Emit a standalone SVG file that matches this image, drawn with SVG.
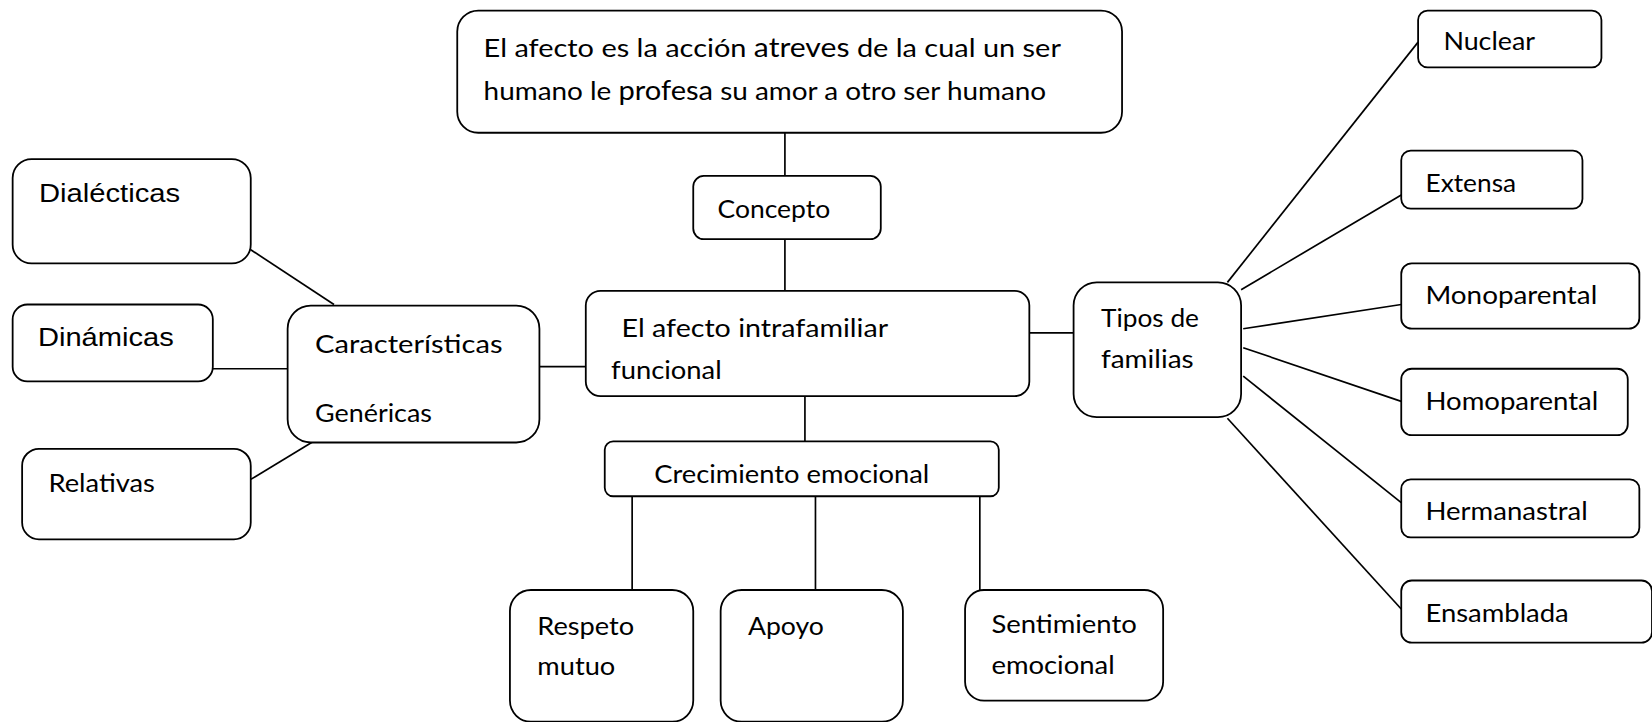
<svg xmlns="http://www.w3.org/2000/svg" width="1652" height="722" viewBox="0 0 1652 722">
<style>
.box{fill:#fff;stroke:#000;stroke-width:1.7}
.ln{stroke:#000;stroke-width:1.6;fill:none}
.t{font-family:Lato,"Open Sans","Noto Sans",sans-serif;font-size:24px;fill:#000}
.a{font-family:"Liberation Sans",Arial,sans-serif;font-size:25px;fill:#000}
</style>
<rect width="1652" height="722" fill="#fff"/>
<g transform="scale(1.05357)">
<g id="connectors">
<line class="ln" x1="745" y1="126" x2="745" y2="167"/>
<line class="ln" x1="745" y1="227" x2="745" y2="276"/>
<line class="ln" x1="512" y1="348" x2="556" y2="348"/>
<line class="ln" x1="238" y1="237" x2="317" y2="289"/>
<line class="ln" x1="202" y1="350" x2="273" y2="350"/>
<line class="ln" x1="238" y1="455" x2="304" y2="415"/>
<line class="ln" x1="977" y1="316" x2="1019" y2="316"/>
<line class="ln" x1="764" y1="376" x2="764" y2="419"/>
<line class="ln" x1="600" y1="471" x2="600" y2="560"/>
<line class="ln" x1="774" y1="471" x2="774" y2="560"/>
<line class="ln" x1="930" y1="471" x2="930" y2="560"/>
<line class="ln" x1="1165" y1="268" x2="1346" y2="40"/>
<line class="ln" x1="1178" y1="275" x2="1330" y2="185"/>
<line class="ln" x1="1180" y1="312" x2="1330" y2="289"/>
<line class="ln" x1="1180" y1="330" x2="1330" y2="381"/>
<line class="ln" x1="1180" y1="357" x2="1330" y2="477"/>
<line class="ln" x1="1165" y1="397" x2="1330" y2="578"/>
</g>
<g id="definicion">
<rect class="box" x="434" y="10" width="631" height="116" rx="20"/>
<text class="t" x="459" y="54" font-size="23" textLength="548" lengthAdjust="spacingAndGlyphs">El afecto es la acción <tspan font-size="25">atreves</tspan> de la cual un ser</text>
<text class="t" x="459" y="95" font-size="23" textLength="534" lengthAdjust="spacingAndGlyphs">humano le <tspan font-size="25">profesa</tspan> su amor a otro ser humano</text>
</g>
<g id="concepto">
<rect class="box" x="658" y="167" width="178" height="60" rx="10"/>
<text class="t" x="681" y="207" textLength="107" lengthAdjust="spacingAndGlyphs">Concepto</text>
</g>
<g id="afecto">
<rect class="box" x="556" y="276" width="421" height="100" rx="14"/>
<text class="t" x="590" y="320" textLength="253" lengthAdjust="spacingAndGlyphs">El afecto intrafamiliar</text>
<text class="t" x="580" y="360" textLength="105" lengthAdjust="spacingAndGlyphs">funcional</text>
</g>
<g id="caracteristicas">
<rect class="box" x="273" y="290" width="239" height="130" rx="22"/>
<text class="t" x="299" y="335" textLength="178" lengthAdjust="spacingAndGlyphs">Características</text>
<text class="t" x="299" y="401" font-size="22" textLength="111" lengthAdjust="spacingAndGlyphs">Genéricas</text>
</g>
<g id="dialecticas">
<rect class="box" x="12" y="151" width="226" height="99" rx="18"/>
<text class="a" x="37" y="192" textLength="134" lengthAdjust="spacingAndGlyphs">Dialécticas</text>
</g>
<g id="dinamicas">
<rect class="box" x="12" y="289" width="190" height="73" rx="14"/>
<text class="a" x="36" y="328" textLength="129" lengthAdjust="spacingAndGlyphs">Dinámicas</text>
</g>
<g id="relativas">
<rect class="box" x="21" y="426" width="217" height="86" rx="16"/>
<text class="t" x="46" y="467" font-size="22" textLength="101" lengthAdjust="spacingAndGlyphs">Relativas</text>
</g>
<g id="tipos">
<rect class="box" x="1019" y="268" width="159" height="128" rx="22"/>
<text class="t" x="1045" y="310" textLength="93" lengthAdjust="spacingAndGlyphs">Tipos de</text>
<text class="t" x="1045" y="349" textLength="88" lengthAdjust="spacingAndGlyphs">familias</text>
</g>
<g id="nuclear">
<rect class="box" x="1346" y="10" width="174" height="54" rx="9"/>
<text class="t" x="1370" y="47" font-size="22" textLength="87" lengthAdjust="spacingAndGlyphs">Nuclear</text>
</g>
<g id="extensa">
<rect class="box" x="1330" y="143" width="172" height="55" rx="9"/>
<text class="t" x="1353" y="182" font-size="22" textLength="86" lengthAdjust="spacingAndGlyphs">Extensa</text>
</g>
<g id="monoparental">
<rect class="box" x="1330" y="250" width="226" height="62" rx="10"/>
<text class="t" x="1353" y="289" font-size="22" textLength="163" lengthAdjust="spacingAndGlyphs">Monoparental</text>
</g>
<g id="homoparental">
<rect class="box" x="1330" y="350" width="215" height="63" rx="10"/>
<text class="t" x="1353" y="389" font-size="22" textLength="164" lengthAdjust="spacingAndGlyphs">Homoparental</text>
</g>
<g id="hermanastral">
<rect class="box" x="1330" y="455" width="226" height="55" rx="9"/>
<text class="t" x="1353" y="494" font-size="22" textLength="154" lengthAdjust="spacingAndGlyphs">Hermanastral</text>
</g>
<g id="ensamblada">
<rect class="box" x="1330" y="551" width="238" height="59" rx="10"/>
<text class="t" x="1353" y="590" font-size="22" textLength="136" lengthAdjust="spacingAndGlyphs">Ensamblada</text>
</g>
<g id="crecimiento">
<rect class="box" x="574" y="419" width="374" height="52" rx="8"/>
<text class="t" x="621" y="458" textLength="261" lengthAdjust="spacingAndGlyphs">Crecimiento emocional</text>
</g>
<g id="respeto">
<rect class="box" x="484" y="560" width="174" height="125" rx="20"/>
<text class="t" x="510" y="603" textLength="92" lengthAdjust="spacingAndGlyphs">Respeto</text>
<text class="t" x="510" y="641" textLength="74" lengthAdjust="spacingAndGlyphs">mutuo</text>
</g>
<g id="apoyo">
<rect class="box" x="684" y="560" width="173" height="125" rx="20"/>
<text class="t" x="710" y="603" textLength="72" lengthAdjust="spacingAndGlyphs">Apoyo</text>
</g>
<g id="sentimiento">
<rect class="box" x="916" y="560" width="188" height="105" rx="18"/>
<text class="t" x="941" y="601" textLength="138" lengthAdjust="spacingAndGlyphs">Sentimiento</text>
<text class="t" x="941" y="640" textLength="117" lengthAdjust="spacingAndGlyphs">emocional</text>
</g>
</g>
</svg>
